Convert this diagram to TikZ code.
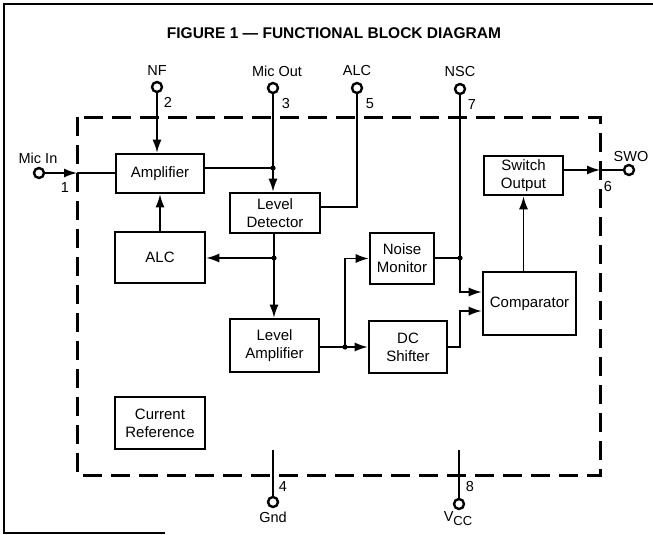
\documentclass[tikz,border=0pt]{standalone}
\usepackage{fontspec}
\setmainfont{Liberation Sans}
\usetikzlibrary{arrows.meta}

\begin{document}
\begin{tikzpicture}[x=1pt,y=-1pt,
    block/.style={draw, line width=2.6pt, align=center, inner sep=0pt, font=\fontsize{15}{18}\selectfont},
    pinring/.style={draw, circle, line width=2.4pt, minimum size=10pt, inner sep=0pt, fill=white},
    pinlabel/.style={font=\fontsize{14.5}{17}\selectfont},
    wire/.style={line width=1.5pt},
    arr/.style={wire, -{Latex[length=13pt,width=9pt]}},
    icbound/.style={line width=3pt, dash pattern=on 19pt off 9pt}]
    \useasboundingbox (0,0) rectangle (653,535);

    % Draw frame and title
    \draw[line width=1.2pt] (653,4) -- (4,4) -- (4,533) -- (165,533);
    \node[font=\bfseries\fontsize{15.5}{18}\selectfont] (title) at (334,33) {FIGURE 1 — FUNCTIONAL BLOCK DIAGRAM};

    % Draw chip outline
    \draw[icbound] (77,117) rectangle (600,475);

    % Blocks
    \node[block, minimum width=88pt, minimum height=39pt] (amp) at (160,173.5) {Amplifier};
    \node[block, minimum width=90pt, minimum height=40pt] (lvldet) at (275,213) {Level\\Detector};
    \node[block, minimum width=90pt, minimum height=51pt] (alc) at (160,257.5) {ALC};
    \node[block, minimum width=89pt, minimum height=53pt] (lvlamp) at (274.5,345.5) {Level\\Amplifier};
    \node[block, minimum width=64pt, minimum height=51pt] (noise) at (402,258.5) {Noise\\Monitor};
    \node[block, minimum width=78pt, minimum height=52pt] (dcsh) at (408,347) {DC\\Shifter};
    \node[block, minimum width=93pt, minimum height=63pt] (comp) at (529.5,303.5) {Comparator};
    \node[block, minimum width=79pt, minimum height=39pt] (swout) at (523.5,175.5) {Switch\\Output};
    \node[block, minimum width=90pt, minimum height=52pt] (curref) at (160,423) {Current\\Reference};

    % Pins
    \node[pinring] (micin) at (39,173) {};
    \node[pinlabel] (micinlbl) at (38,158) {Mic In};
    \node[pinlabel] (micinnum) at (65,188) {1};
    \node[pinring] (nf) at (157,87) {};
    \node[pinlabel] (nflbl) at (157,71) {NF};
    \node[pinlabel] (nfnum) at (168,102) {2};
    \node[pinring] (micout) at (273,88) {};
    \node[pinlabel] (micoutlbl) at (277,71) {Mic Out};
    \node[pinlabel] (micoutnum) at (286,104) {3};
    \node[pinring] (alcpin) at (357,88) {};
    \node[pinlabel] (alcpinlbl) at (357,71) {ALC};
    \node[pinlabel] (alcpinnum) at (370,104) {5};
    \node[pinring] (nsc) at (460,89) {};
    \node[pinlabel] (nsclbl) at (460,72) {NSC};
    \node[pinlabel] (nscnum) at (472,105) {7};
    \node[pinring] (swo) at (629,170) {};
    \node[pinlabel] (swolbl) at (631,157) {SWO};
    \node[pinlabel] (swonum) at (608,187) {6};
    \node[pinring] (gnd) at (273,502) {};
    \node[pinlabel] (gndlbl) at (273,517) {Gnd};
    \node[pinlabel] (gndnum) at (283,487) {4};
    \node[pinring] (vcc) at (459,504) {};
    \node[pinlabel] (vcclbl) at (458,519) {V\raisebox{-4pt}{\fontsize{13}{14}\selectfont CC}};
    \node[pinlabel] (vccnum) at (470,487) {8};

    % Junctions and bends
    \coordinate (j1) at (273,168);
    \coordinate (j2) at (274,258);
    \coordinate (j3) at (345,347);
    \coordinate (j4) at (460,258);
    \coordinate (alcbend) at (357,207);
    \coordinate (nscbend) at (460,292);
    \coordinate (dcbend) at (460,311);
    \coordinate (leftedge) at (77,173);
    \coordinate (rightedge) at (600,170);
    \coordinate (gndtop) at (273,450);
    \coordinate (vcctop) at (459,450);

    % Input side
    \draw[arr] (micin) -- (leftedge);
    \draw[wire] (leftedge) -- (leftedge -| amp.west);
    \draw[arr] (nf) -- (nf |- amp.north);
    \draw[arr] (alc.north) -- (amp.south);

    % Mic out and detector
    \draw[wire] (micout) -- (j1);
    \draw[wire] (j1 -| amp.east) -- (j1);
    \draw[arr] (j1) -- (j1 |- lvldet.north);
    \draw[wire] (alcpin) -- (alcbend) -- (alcbend -| lvldet.east);
    \draw[wire] (j2 |- lvldet.south) -- (j2);
    \draw[arr] (j2) -- (j2 -| alc.east);
    \draw[arr] (j2) -- (j2 |- lvlamp.north);

    % Level amplifier out
    \draw[wire] (j3 -| lvlamp.east) -- (j3);
    \draw[arr] (j3) -- (j3 -| dcsh.west);
    \draw[arr] (j3) |- (noise.west);

    % Into the comparator
    \draw[wire] (j4 -| noise.east) -- (j4);
    \draw[wire] (nsc) -- (j4);
    \draw[arr] (j4) -- (nscbend) -- (nscbend -| comp.west);
    \draw[arr] (dcsh.east) -| (dcbend) -- (dcbend -| comp.west);
    \draw[arr] (swout.south |- comp.north) -- (swout.south);

    % Output and supply
    \draw[arr] (rightedge -| swout.east) -- (rightedge);
    \draw[wire] (rightedge) -- (swo);
    \draw[wire] (gndtop) -- (gnd);
    \draw[wire] (vcctop) -- (vcc);

    \foreach \j in {j1,j2,j3,j4}
        \fill (\j) circle (2.6);
\end{tikzpicture}
\end{document}
